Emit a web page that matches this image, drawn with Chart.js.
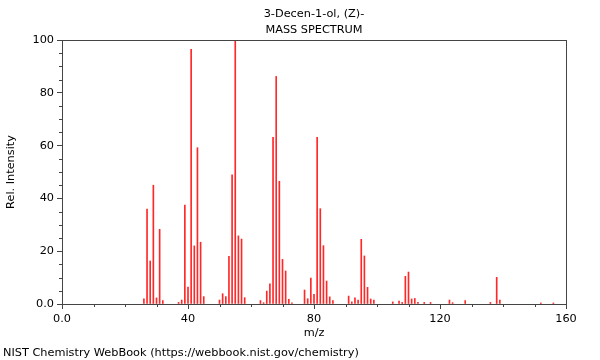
<!DOCTYPE html>
<html>
<head>
<meta charset="utf-8">
<script src="https://cdn.jsdelivr.net/npm/chart.js@4"></script>
<style>
  html, body { margin: 0; padding: 0; background: #fff; }
  #wrap { width: 600px; height: 360px; }
</style>
</head>
<body>
<div id="wrap"><canvas id="grafico" width="600" height="360"></canvas></div>
<script>
const titulo = ["3-Decen-1-ol, (Z)-", "MASS SPECTRUM"];
const pie = "NIST Chemistry WebBook (https://webbook.nist.gov/chemistry)";

// m/z y su intensidad relativa
const masas = [26, 27, 28, 29, 30, 31, 32, 37, 38, 39, 40, 41, 42, 43, 44, 45,
    50, 51, 52, 53, 54, 55, 56, 57, 58, 63, 64, 65, 66, 67, 68, 69, 70, 71, 72, 73,
    77, 78, 79, 80, 81, 82, 83, 84, 85, 86, 91, 92, 93, 94, 95, 96, 97, 98, 99,
    105, 107, 108, 109, 110, 111, 112, 113, 115, 117, 123, 124, 128, 136, 138, 139, 152, 156];
const intensidades = [2.0, 36.0, 16.3, 45.0, 2.3, 28.3, 1.3, 0.6, 1.5, 37.5, 6.4, 96.5, 22.0, 59.2, 23.4, 2.8,
    1.5, 3.9, 2.8, 18.1, 48.9, 100, 25.8, 24.6, 2.4, 1.3, 0.5, 4.9, 7.6, 63.1, 86.2, 46.5, 16.9, 12.5, 1.8, 0.4,
    5.3, 2.0, 9.8, 3.7, 63.1, 36.1, 22.1, 8.7, 2.7, 1.3, 3.0, 0.8, 2.3, 1.5, 24.5, 18.2, 6.3, 1.9, 1.5,
    0.8, 1.1, 0.6, 10.5, 12.1, 1.9, 2.1, 0.6, 0.6, 0.6, 1.5, 0.5, 1.3, 0.6, 10.1, 1.5, 0.4, 0.4];

const ticksX = [0, 40, 80, 120, 160];
const ticksY = [0, 20, 40, 60, 80, 100];
const menoresX = [10, 20, 30, 50, 60, 70, 90, 100, 110, 130, 140, 150];
const menoresY = [5, 10, 15, 25, 30, 35, 45, 50, 55, 65, 70, 75, 85, 90, 95];

const FUENTE = "DejaVu Sans";
const TAM = 11.3;
const colorEje = "#444";

// marco, ticks menores y textos
const extras = {
    id: "extras",
    afterDraw(chart) {
        const ctx = chart.ctx;
        const a = chart.chartArea;
        const sx = chart.scales.x, sy = chart.scales.y;
        ctx.save();
        ctx.strokeStyle = colorEje;
        ctx.lineWidth = 1;
        ctx.strokeRect(Math.round(a.left) + 0.5, Math.round(a.top) + 0.5,
            Math.round(a.right - a.left), Math.round(a.bottom - a.top));

        ctx.beginPath();
        menoresX.forEach(v => {
            const px = Math.round(sx.getPixelForValue(v)) + 0.5;
            ctx.moveTo(px, a.bottom);
            ctx.lineTo(px, a.bottom + 3);
        });
        menoresY.forEach(v => {
            const py = Math.round(sy.getPixelForValue(v)) + 0.5;
            ctx.moveTo(a.left - 3, py);
            ctx.lineTo(a.left, py);
        });
        ctx.stroke();

        ctx.fillStyle = "#000";
        ctx.font = TAM + "px '" + FUENTE + "'";
        ctx.textAlign = "center";
        ctx.textBaseline = "middle";
        const cx = (a.left + a.right) / 2;
        ctx.fillText(titulo[0], cx, 14);
        ctx.fillText(titulo[1], cx, 30);
        ctx.fillText("m/z", cx, 333);

        ctx.textAlign = "left";
        ctx.fillText(pie, 3, 353);

        ctx.translate(11, (a.top + a.bottom) / 2);
        ctx.rotate(-Math.PI / 2);
        ctx.textAlign = "center";
        ctx.fillText("Rel. Intensity", 0, 0);
        ctx.restore();
    }
};

const etiqueta = v => v === 0 ? "0.0" : String(v);

new Chart(document.getElementById("grafico"), {
    type: "bar",
    data: {
        datasets: [{
            data: masas.map((m, i) => ({ x: m, y: intensidades[i] })),
            backgroundColor: "rgb(255, 40, 40)",
            barThickness: 1,
            borderWidth: 0
        }]
    },
    options: {
        responsive: false,
        animation: false,
        devicePixelRatio: 1,
        layout: { padding: { top: 40, right: 34, left: 0, bottom: 0 } },
        plugins: { legend: { display: false }, tooltip: { enabled: false } },
        scales: {
            x: {
                type: "linear",
                min: 0, max: 160,
                offset: false,
                afterBuildTicks: s => { s.ticks = ticksX.map(v => ({ value: v })); },
                afterFit: s => { s.height = 56; },
                ticks: { callback: etiqueta, color: "#000", font: { family: FUENTE, size: TAM }, padding: 3, maxRotation: 0 },
                grid: { offset: false, drawOnChartArea: false, tickLength: 5, tickColor: colorEje, color: colorEje },
                border: { color: colorEje }
            },
            y: {
                min: 0, max: 100,
                afterBuildTicks: s => { s.ticks = ticksY.map(v => ({ value: v })); },
                afterFit: s => { s.width = 62; },
                ticks: { callback: etiqueta, color: "#000", font: { family: FUENTE, size: TAM }, padding: 3 },
                grid: { drawOnChartArea: false, tickLength: 5, tickColor: colorEje, color: colorEje },
                border: { color: colorEje }
            }
        }
    },
    plugins: [extras]
});
</script>
</body>
</html>
